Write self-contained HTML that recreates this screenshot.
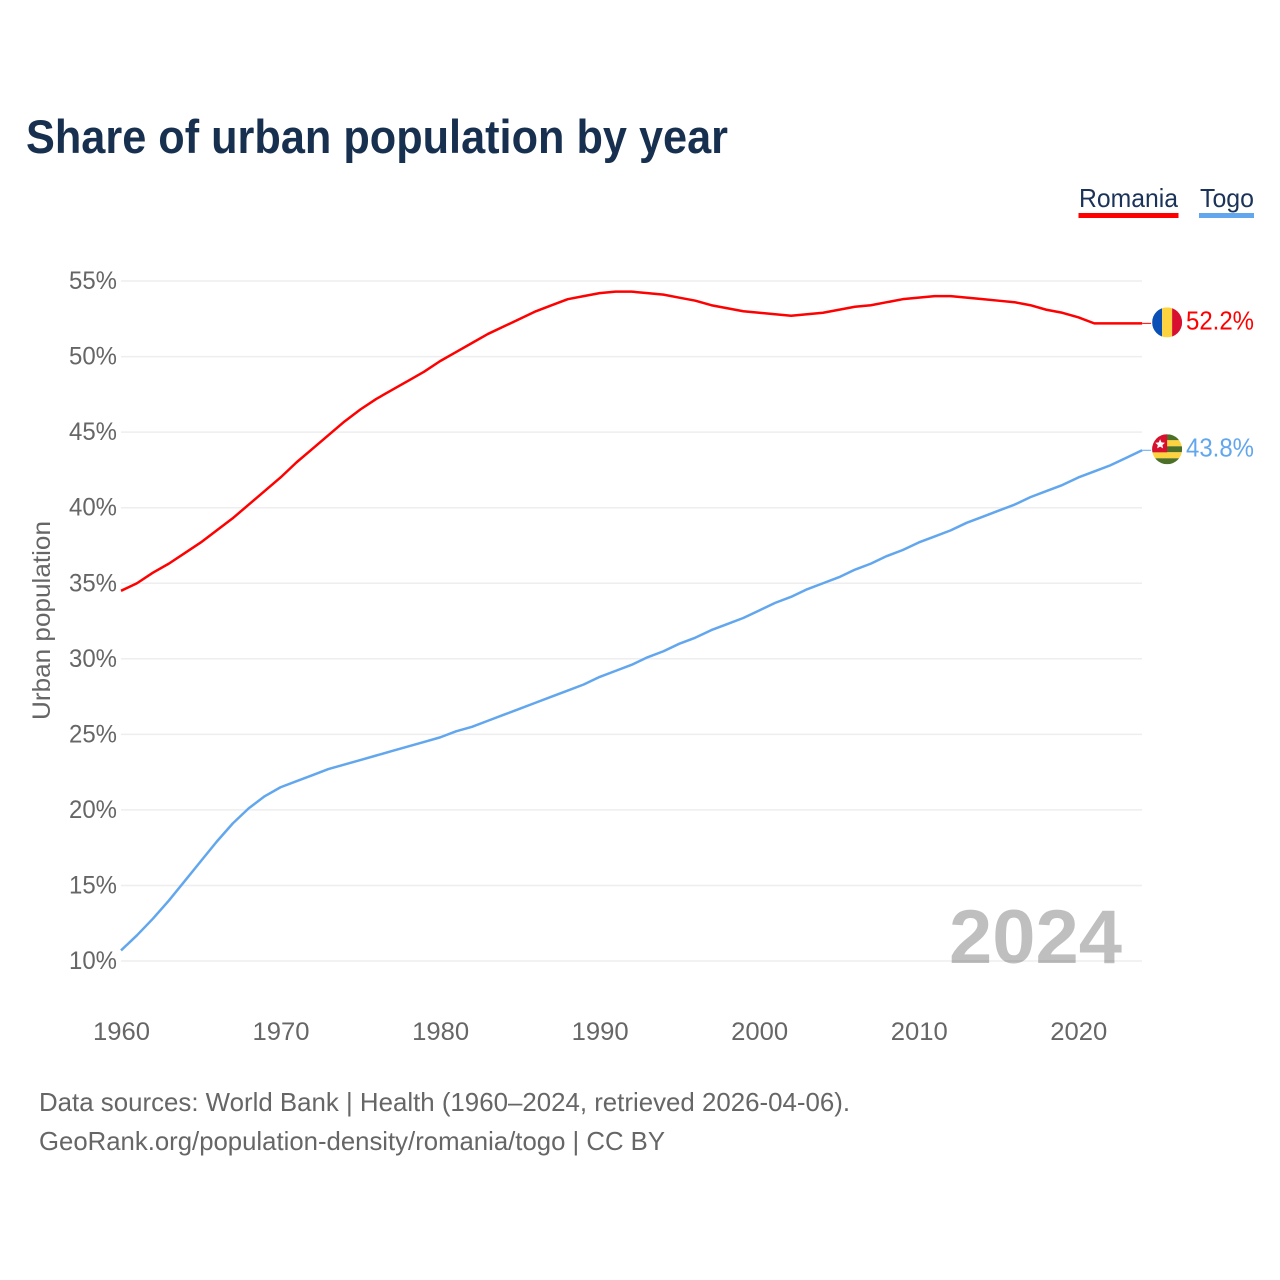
<!DOCTYPE html>
<html lang="en">
<head>
<meta charset="utf-8">
<title>Share of urban population by year</title>
<style>
html,body{margin:0;padding:0;background:#fff}
svg{display:block;font-family:"Liberation Sans",Arial,sans-serif}
</style>
</head>
<body>
<svg id="chart" xmlns="http://www.w3.org/2000/svg" width="1280" height="1280" viewBox="0 0 1280 1280">
<defs>
<clipPath id="flag-clip"><circle cx="0" cy="0" r="15"></circle></clipPath>
</defs>
<rect x="0" y="0" width="1280" height="1280" fill="#fff"></rect>
<text x="26" y="153" font-size="47" font-weight="700" fill="#18304f" textLength="702" lengthAdjust="spacingAndGlyphs">Share of urban population by year</text>

<g>
<g>
<text x="1079" y="207" font-size="26" fill="#1b3358" textLength="99" lengthAdjust="spacingAndGlyphs">Romania</text>
<rect x="1078.500" y="213" width="100" height="5" fill="#ff0000"></rect>
</g>
<g>
<text x="1200" y="207" font-size="26" fill="#1b3358" textLength="54" lengthAdjust="spacingAndGlyphs">Togo</text>
<rect x="1199" y="213" width="55" height="5" fill="#62a7ee"></rect>
</g>
</g>

<g id="grid"></g>
<g id="yticks"></g>
<g id="xticks"></g>
<text transform="translate(50,620.500) rotate(-90)" text-anchor="middle" font-size="25" fill="#666" textLength="199" lengthAdjust="spacingAndGlyphs">Urban population</text>
<text x="949" y="963" font-size="76" font-weight="700" fill="#000" fill-opacity="0.25" textLength="173" lengthAdjust="spacingAndGlyphs">2024</text>
<g id="series"></g>

<g id="flag-romania">
<g clip-path="url(#flag-clip)">
<rect x="-15" y="-15" width="10" height="30" fill="#0a4fb5"></rect>
<rect x="-5" y="-15" width="10" height="30" fill="#fdd440"></rect>
<rect x="5" y="-15" width="10" height="30" fill="#d80f2e"></rect>
</g>
</g>
<g id="flag-togo">
<g clip-path="url(#flag-clip)">
<rect x="-15" y="-15" width="30" height="6" fill="#4c7028"></rect>
<rect x="-15" y="-9" width="30" height="6" fill="#fdd440"></rect>
<rect x="-15" y="-3" width="30" height="6" fill="#4c7028"></rect>
<rect x="-15" y="3" width="30" height="6" fill="#fdd440"></rect>
<rect x="-15" y="9" width="30" height="6" fill="#4c7028"></rect>
<rect x="-15" y="-15" width="15" height="18" fill="#d80f2e"></rect>
<polygon points="-7,-10 -5.600,-6.900 -2.200,-6.500 -4.700,-4.200 -4,-0.900 -7,-2.600 -10,-0.900 -9.300,-4.200 -11.800,-6.500 -8.400,-6.900" fill="#fff"></polygon>
</g>
</g>

<text x="39" y="1111" font-size="26" fill="#666" textLength="811" lengthAdjust="spacingAndGlyphs">Data sources: World Bank | Health (1960–2024, retrieved 2026-04-06).</text>
<text x="39" y="1150" font-size="26" fill="#666" textLength="626" lengthAdjust="spacingAndGlyphs">GeoRank.org/population-density/romania/togo | CC BY</text>
</svg>
<script>
const startYear = 1960;
const romaniaValues = [34.5,35.0,35.7,36.3,37.0,37.7,38.5,39.3,40.2,41.1,42.0,43.0,43.9,44.8,45.7,46.5,47.2,47.8,48.4,49.0,49.7,50.3,50.9,51.5,52.0,52.5,53.0,53.4,53.8,54.0,54.2,54.3,54.3,54.2,54.1,53.9,53.7,53.4,53.2,53.0,52.9,52.8,52.7,52.8,52.9,53.1,53.3,53.4,53.6,53.8,53.9,54.0,54.0,53.9,53.8,53.7,53.6,53.4,53.1,52.9,52.6,52.2,52.2,52.2,52.2];
const togoValues = [10.7,11.7,12.8,14.0,15.3,16.6,17.9,19.1,20.1,20.9,21.5,21.9,22.3,22.7,23.0,23.3,23.6,23.9,24.2,24.5,24.8,25.2,25.5,25.9,26.3,26.7,27.1,27.5,27.9,28.3,28.8,29.2,29.6,30.1,30.5,31.0,31.4,31.9,32.3,32.7,33.2,33.7,34.1,34.6,35.0,35.4,35.9,36.3,36.8,37.2,37.7,38.1,38.5,39.0,39.4,39.8,40.2,40.7,41.1,41.5,42.0,42.4,42.8,43.3,43.8];
const yTickValues = [10,15,20,25,30,35,40,45,50,55];
const xTickYears = [1960,1970,1980,1990,2000,2010,2020];

const NS = 'http://www.w3.org/2000/svg';
const xScale = function (year) { return 121 + (year - 1960) * 15.955; };
const yScale = function (value) { return 961 - (value - 10) * 15.11; };
function make(tag, parent, attrs, text) {
  const el = document.createElementNS(NS, tag);
  Object.keys(attrs).forEach(function (k) { el.setAttribute(k, attrs[k]); });
  if (text !== undefined) el.textContent = text;
  parent.appendChild(el);
  return el;
}
const grid = document.getElementById('grid');
const yticks = document.getElementById('yticks');
const xticks = document.getElementById('xticks');
const series = document.getElementById('series');

yTickValues.forEach(function (v) {
  const y = yScale(v);
  const line = make('line', grid, {x1: 121, x2: 1142, y1: y, y2: y, stroke: '#eeeeee', 'stroke-width': 1.5});
  
  
  const label = make('text', yticks, {x: 69, y: y + 8, 'font-size': 25, fill: '#666', textLength: 48, lengthAdjust: 'spacingAndGlyphs'}, v + '%');
  
  
});
xTickYears.forEach(function (yr) {
  const label = make('text', xticks, {x: xScale(yr) + 0.500, y: 1040, 'text-anchor': 'middle', 'font-size': 25, fill: '#666', textLength: 57, lengthAdjust: 'spacingAndGlyphs'}, String(yr));
  
  
});
function drawSeries(key, values, color) {
  const pts = values.map(function (v, i) {
    return xScale(startYear + i).toFixed(2) + ',' + yScale(v).toFixed(2);
  }).join(' ');
  const line = make('polyline', series, {points: pts, fill: 'none', stroke: color, 'stroke-width': 2.500, 'stroke-linejoin': 'round'});
  
  
  const last = values[values.length - 1];
  const lastX = xScale(startYear + values.length - 1);
  const lastY = yScale(last);
  const connector = make('line', series, {x1: lastX, x2: lastX + 9, y1: lastY, y2: lastY, stroke: color, 'stroke-width': 1});
  
  
  document.getElementById('flag-' + key).setAttribute('transform', 'translate(' + (lastX + 25) + ',' + (lastY - 1) + ')');
  const label = make('text', series, {x: 1186, y: lastY + 6, 'font-size': 26, fill: color, textLength: 68, lengthAdjust: 'spacingAndGlyphs'}, last.toFixed(1) + '%');
  
  
}
drawSeries('romania', romaniaValues, '#ff0000');
drawSeries('togo', togoValues, '#62a7ee');
</script>
</body>
</html>
